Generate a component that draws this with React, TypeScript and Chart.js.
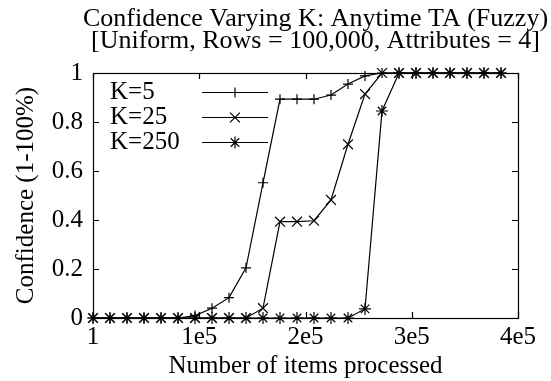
import React, { useEffect, useRef } from 'react';
import { Chart, registerables } from 'chart.js';

Chart.register(...registerables);

const TITLE_LINES = ['Confidence Varying K: Anytime TA (Fuzzy)', '[Uniform, Rows = 100,000, Attributes = 4]'];
const X_LABEL = 'Number of items processed';
const Y_LABEL = 'Confidence (1-100%)';

const itemsProcessed = [
  1, 16000, 32000, 48000, 64000, 80000, 96000, 112000, 128000, 144000, 160000, 176000, 192000,
  208000, 224000, 240000, 256000, 272000, 288000, 304000, 320000, 336000, 352000, 368000, 384000,
];
const confK5 = [
  0, 0, 0, 0, 0, 0, 0.01, 0.04, 0.083, 0.205, 0.552, 0.893, 0.893,
  0.893, 0.91, 0.955, 0.988, 1, 1, 1, 1, 1, 1, 1, 1,
];
const confK25 = [
  0, 0, 0, 0, 0, 0, 0, 0, 0, 0, 0.04, 0.393, 0.393,
  0.397, 0.482, 0.709, 0.914, 1, 1, 1, 1, 1, 1, 1, 1,
];
const confK250 = [
  0, 0, 0, 0, 0, 0, 0, 0, 0, 0, 0, 0, 0,
  0, 0, 0, 0.037, 0.845, 1, 1, 1, 1, 1, 1, 1,
];
const seriesLabels = ['K=5', 'K=25', 'K=250'];
const seriesMarkers = ['cross', 'crossRot', 'star'];
const seriesRadius = [5, 7, 6];

const xTickValues = [0, 100000, 200000, 300000, 400000];
const xTickLabels = ['1', '1e5', '2e5', '3e5', '4e5'];
const yTickValues = [0, 0.2, 0.4, 0.6, 0.8, 1];
const yTickLabels = ['0', '0.2', '0.4', '0.6', '0.8', '1'];

const FONT = '"Liberation Serif", "Times New Roman", serif';

function drawMarker(ctx: CanvasRenderingContext2D, style: string, x: number, y: number, r: number) {
  ctx.beginPath();
  if (style === 'cross' || style === 'star') {
    ctx.moveTo(x, y - r); ctx.lineTo(x, y + r);
    ctx.moveTo(x - r, y); ctx.lineTo(x + r, y);
  }
  if (style === 'crossRot' || style === 'star') {
    const o = Math.cos(Math.PI / 4) * r;
    ctx.moveTo(x - o, y - o); ctx.lineTo(x + o, y + o);
    ctx.moveTo(x + o, y - o); ctx.lineTo(x - o, y + o);
  }
  ctx.stroke();
}

const framePlugin = {
  id: 'gnuFrame',
  afterDatasetsDraw(chart: any) {
    const { ctx, chartArea } = chart;
    const { left, right, top, bottom } = chartArea;
    const xs = chart.scales.x;
    const ys = chart.scales.y;
    const tl = 6;
    ctx.save();
    ctx.strokeStyle = '#000';
    ctx.lineWidth = 1.2;
    ctx.beginPath();
    for (const v of xTickValues) {
      const px = Math.round(xs.getPixelForValue(v)) + 0.5;
      ctx.moveTo(px, bottom); ctx.lineTo(px, bottom - tl);
      ctx.moveTo(px, top); ctx.lineTo(px, top + tl);
    }
    for (const v of yTickValues) {
      const py = Math.round(ys.getPixelForValue(v)) + 0.5;
      ctx.moveTo(left, py); ctx.lineTo(left + tl, py);
      ctx.moveTo(right, py); ctx.lineTo(right - tl, py);
    }
    ctx.stroke();
    ctx.strokeRect(Math.round(left) + 0.5, Math.round(top) + 0.5, Math.round(right - left), Math.round(bottom - top));

    // Title
    ctx.fillStyle = '#000';
    ctx.font = `26px ${FONT}`;
    ctx.textAlign = 'center';
    ctx.textBaseline = 'middle';
    const cx = (left + right) / 2 + 10;
    ctx.fillText(TITLE_LINES[0], cx, 19);
    ctx.fillText(TITLE_LINES[1], cx, 41);

    // Legend
    ctx.font = `25px ${FONT}`;
    ctx.textAlign = 'left';
    chart.data.datasets.forEach((ds: any, i: number) => {
      const y = top + 19 + i * 25;
      ctx.fillText(ds.label, left + 17, y);
      ctx.beginPath();
      ctx.moveTo(left + 109, Math.round(y) + 0.5);
      ctx.lineTo(left + 175, Math.round(y) + 0.5);
      ctx.stroke();
      drawMarker(ctx, ds.pointStyle, left + 142, Math.round(y) + 0.5, ds.pointRadius);
    });
    ctx.restore();
  },
};

export default function App() {
  const ref = useRef<HTMLCanvasElement | null>(null);
  useEffect(() => {
    document.body.style.margin = '0';
    const canvas = ref.current;
    if (!canvas) return;
    const series = [confK5, confK25, confK250];
    const chart = new Chart(canvas, {
      type: 'line',
      data: {
        datasets: series.map((vals, i) => ({
          label: seriesLabels[i],
          data: itemsProcessed.map((x, j) => ({ x, y: vals[j] })),
          borderColor: '#000',
          backgroundColor: '#000',
          borderWidth: 1.2,
          pointStyle: seriesMarkers[i] as any,
          pointRadius: seriesRadius[i],
          pointBorderWidth: 1.2,
          pointBorderColor: '#000',
          tension: 0,
          fill: false,
          clip: false as any,
        })),
      },
      options: {
        animation: false,
        responsive: false,
        devicePixelRatio: 1,
        events: [],
        layout: { padding: { top: 73, right: 33, left: 0, bottom: 0 } },
        plugins: { legend: { display: false }, title: { display: false }, tooltip: { enabled: false } },
        scales: {
          x: {
            type: 'linear',
            min: 0,
            max: 400000,
            afterBuildTicks: (scale: any) => { scale.ticks = xTickValues.map((v) => ({ value: v })); },
            afterFit: (scale: any) => { scale.height = 63; },
            grid: { display: false, drawTicks: false },
            border: { display: false },
            ticks: {
              padding: 4,
              color: '#000',
              font: { family: FONT, size: 25 },
              maxRotation: 0,
              autoSkip: false,
              callback: (v: any) => xTickLabels[xTickValues.indexOf(Number(v))] ?? '',
            },
            title: {
              display: true,
              text: X_LABEL,
              color: '#000',
              font: { family: FONT, size: 25 },
              padding: { top: 0, bottom: 0 },
            },
          },
          y: {
            type: 'linear',
            min: 0,
            max: 1,
            afterBuildTicks: (scale: any) => { scale.ticks = yTickValues.map((v) => ({ value: v })); },
            afterFit: (scale: any) => { scale.width = 93; },
            grid: { display: false, drawTicks: false },
            border: { display: false },
            ticks: {
              padding: 10,
              color: '#000',
              font: { family: FONT, size: 25 },
              autoSkip: false,
              callback: (v: any) => {
                const idx = yTickValues.findIndex((t) => Math.abs(t - Number(v)) < 1e-9);
                return idx >= 0 ? yTickLabels[idx] : '';
              },
            },
            title: {
              display: true,
              text: Y_LABEL,
              color: '#000',
              font: { family: FONT, size: 25 },
              padding: { top: 11, bottom: 0 },
            },
          },
        },
      },
      plugins: [framePlugin],
    });
    return () => chart.destroy();
  }, []);
  return (
    <div style={{ width: 551, height: 381 }}>
      <canvas ref={ref} width={551} height={381} style={{ display: 'block' }} />
    </div>
  );
}
